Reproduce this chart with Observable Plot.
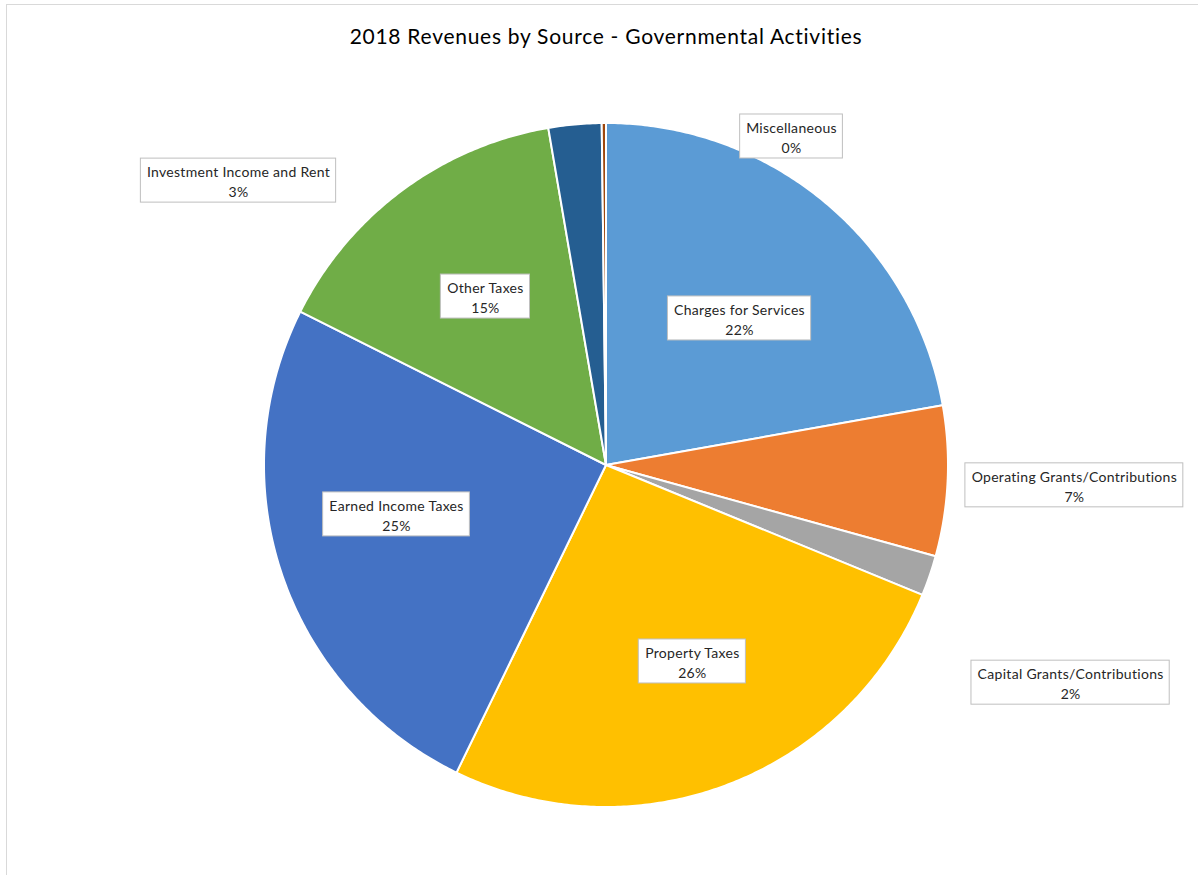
<!DOCTYPE html>
<html>
<head>
<meta charset="utf-8">
<script src="https://cdn.jsdelivr.net/npm/d3@7"></script>
<script src="https://cdn.jsdelivr.net/npm/@observablehq/plot@0.6"></script>
<style>
  html, body { margin: 0; padding: 0; background: #fff; overflow: hidden; }
  #frame { position: absolute; left: 6px; top: 4px; width: 1300px; height: 1000px; border: 1px solid #d9d9d9; pointer-events: none; box-sizing: border-box; }
  #title { box-sizing: border-box; width: 1198px; height: 64px; padding-top: 23px; padding-left: 14px;
           font-family: Lato, "Open Sans", sans-serif; font-size: 21px; letter-spacing: 0.72px; line-height: 26px; text-align: center; color: #000; }
  #chart svg { display: block; }
  #chart svg text { letter-spacing: 0.3px; }
</style>
</head>
<body>
<div id="title">2018 Revenues by Source - Governmental Activities</div>
<div id="chart"></div>
<div id="frame"></div>
<script>
// ---- data (percent of total revenue) ----
const categories = [
  "Charges for Services",
  "Operating Grants/Contributions",
  "Capital Grants/Contributions",
  "Property Taxes",
  "Earned Income Taxes",
  "Other Taxes",
  "Investment Income and Rent",
  "Miscellaneous"
];
const values = [22.2, 7.1, 1.9, 26.0, 25.2, 14.9, 2.5, 0.2];
const colors = ["#5B9BD5", "#ED7D31", "#A5A5A5", "#FFC000", "#4472C4", "#70AD47", "#255E91", "#9E480E"];

// label centres, in pie-radius units relative to the pie centre (layout, as placed in the original)
const labelAt = {
  "Charges for Services": [0.389, 0.430],
  "Operating Grants/Contributions": [1.368, -0.058],
  "Capital Grants/Contributions": [1.357, -0.635],
  "Property Taxes": [0.251, -0.573],
  "Earned Income Taxes": [-0.614, -0.143],
  "Other Taxes": [-0.354, 0.494],
  "Investment Income and Rent": [-1.076, 0.833],
  "Miscellaneous": [0.541, 0.962]
};

// ---- geometry ----
const W = 1198, H = 811;
const cx = 606, cy = 401, R = 342;
const total = d3.sum(values);
const wedgePoints = [];
let acc = 0;
categories.forEach((name, i) => {
  const a0 = acc / total * 2 * Math.PI;
  acc += values[i];
  const a1 = acc / total * 2 * Math.PI;
  const n = Math.max(2, Math.ceil((a1 - a0) / (Math.PI / 360)));
  for (let k = 0; k <= n; k++) {
    const a = a0 + (a1 - a0) * k / n;
    wedgePoints.push({name, x: Math.sin(a), y: Math.cos(a)});
  }
});

const fontFamily = "Lato, 'Open Sans', sans-serif";
const fontSize = 14;
const spacing = 0.3;
const canvas = document.createElement("canvas");
const ctx = canvas.getContext("2d");
ctx.font = `${fontSize}px Lato`;
const tw = s => ctx.measureText(s).width + spacing * s.length;
const labels = categories.map((name, i) => {
  const pct = Math.round(values[i] / total * 100);
  const w = Math.max(tw(name), tw(pct + "%")) + 12;
  const [u, v] = labelAt[name];
  return {name, pct, u, v, hw: w / 2 / R, hh: 22 / R};
});

const chart = Plot.plot({
  width: W,
  height: H,
  margin: 0,
  x: {domain: [-1, 1], range: [cx - R, cx + R], axis: null},
  y: {domain: [-1, 1], range: [cy + R, cy - R], axis: null},
  color: {domain: categories, range: colors},
  style: {fontFamily, background: "#fff", overflow: "visible"},
  marks: [
    Plot.area(wedgePoints, {
      x1: d => 0, y1: d => 0, x2: "x", y2: "y",
      z: "name", fill: "name", stroke: "white", strokeWidth: 2, strokeLinejoin: "round"
    }),
    Plot.rect(labels, {
      x1: d => d.u - d.hw, x2: d => d.u + d.hw,
      y1: d => d.v - d.hh, y2: d => d.v + d.hh,
      fill: "white", stroke: "#bfbfbf", strokeWidth: 1
    }),
    Plot.text(labels, {
      x: "u", y: "v",
      text: d => `${d.name}\n${d.pct}%`,
      fontSize, lineHeight: 1.43, fill: "#262626", fontFamily
    })
  ]
});
document.getElementById("chart").appendChild(chart);
</script>
</body>
</html>
